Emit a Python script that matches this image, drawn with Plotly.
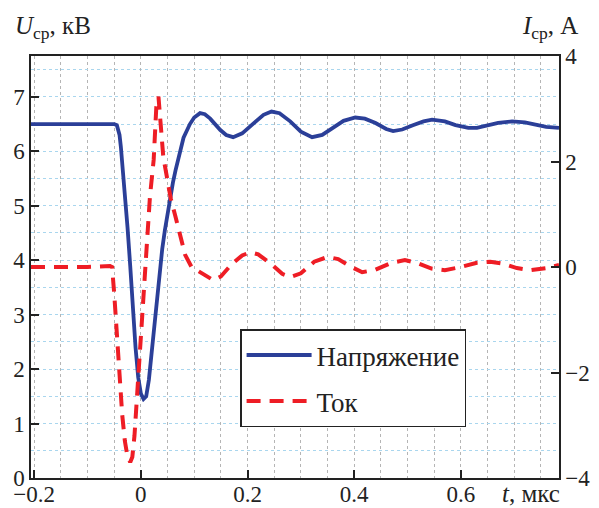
import plotly.graph_objects as go

# ---- data ----
t_voltage = [-0.206, -0.1, -0.05, -0.045, -0.04, -0.0375, -0.035, -0.0325, -0.029, -0.025,
             -0.02, -0.015, -0.01, -0.005, 0.0, 0.005, 0.01, 0.015, 0.02, 0.025,
             0.03, 0.035, 0.04, 0.045, 0.05, 0.055, 0.06, 0.065, 0.074, 0.08,
             0.092, 0.1, 0.111, 0.12, 0.13, 0.149, 0.16, 0.173, 0.19, 0.21,
             0.23, 0.245, 0.26, 0.28, 0.3, 0.321, 0.34, 0.36, 0.38, 0.402,
             0.42, 0.44, 0.46, 0.473, 0.49, 0.51, 0.53, 0.546, 0.57, 0.59,
             0.614, 0.63, 0.65, 0.67, 0.696, 0.72, 0.74, 0.76, 0.784]
u_kv = [6.5, 6.5, 6.5, 6.48, 6.3, 6.08, 5.8, 5.47, 5.1, 4.6,
        3.9, 3.1, 2.4, 1.85, 1.55, 1.45, 1.5, 1.8, 2.3, 2.85,
        3.35, 3.8, 4.2, 4.55, 4.87, 5.17, 5.42, 5.65, 6.05, 6.25,
        6.5, 6.62, 6.7, 6.68, 6.6, 6.39, 6.3, 6.26, 6.33, 6.5,
        6.67, 6.73, 6.7, 6.55, 6.36, 6.26, 6.3, 6.43, 6.56, 6.62,
        6.6, 6.52, 6.41, 6.37, 6.4, 6.48, 6.55, 6.58, 6.55, 6.48,
        6.43, 6.43, 6.47, 6.52, 6.55, 6.53, 6.49, 6.45, 6.43]

t_current = [-0.206, -0.1, -0.058, -0.054, -0.05, -0.045, -0.04, -0.035, -0.03, -0.025,
             -0.02, -0.016, -0.012, -0.008, -0.004, 0.0, 0.005, 0.01, 0.017, 0.024,
             0.029, 0.033, 0.036, 0.038, 0.042, 0.049, 0.056, 0.064, 0.073, 0.083,
             0.095, 0.111, 0.125, 0.136, 0.15, 0.17, 0.19, 0.205, 0.22, 0.245,
             0.265, 0.28, 0.3, 0.325, 0.35, 0.37, 0.395, 0.415, 0.44, 0.47,
             0.495, 0.52, 0.545, 0.57, 0.6, 0.63, 0.655, 0.68, 0.705, 0.73,
             0.76, 0.784]
i_a = [0.0, 0.0, 0.02, 0.0, -0.5, -1.3, -2.1, -2.8, -3.3, -3.6,
       -3.7, -3.6, -3.2, -2.6, -1.9, -1.2, -0.4, 0.35, 1.33, 2.03,
       3.04, 3.23, 2.95, 2.6, 2.09, 1.65, 1.3, 0.99, 0.6, 0.23,
       0.0, -0.1, -0.2, -0.25, -0.18, 0.05, 0.22, 0.28, 0.24, 0.05,
       -0.13, -0.19, -0.12, 0.1, 0.19, 0.15, 0.0, -0.1, -0.05, 0.08,
       0.13, 0.07, -0.03, -0.06, 0.0, 0.08, 0.1, 0.06, -0.02, -0.06,
       -0.02, 0.04]

x_ticks = [-0.2, 0, 0.2, 0.4, 0.6]
x_tick_labels = ["\u22120.2", "0", "0.2", "0.4", "0.6"]
u_ticks = [0, 1, 2, 3, 4, 5, 6, 7]
u_tick_labels = ["0", "1", "2", "3", "4", "5", "6", "7"]
i_ticks = [-4, -2, 0, 2, 4]
i_tick_labels = ["\u22124", "\u22122", "0", "2", "4"]
series_names = ["Напряжение", "Ток"]

BLUE = "#2b3f98"
RED = "#ee1d25"
FONT = "Liberation Serif, serif"

fig = go.Figure()
fig.add_trace(go.Scatter(x=t_voltage, y=u_kv, mode="lines", name=series_names[0],
                         line=dict(color=BLUE, width=3.8), legendgroup="a", yaxis="y"))
fig.add_trace(go.Scatter(x=t_current, y=i_a, mode="lines", name=series_names[1],
                         line=dict(color=RED, width=4, dash="14px,9px"), legendgroup="b", yaxis="y2"))

axis_common = dict(showline=True, linecolor="#222", linewidth=1.5, ticks="inside",
                   ticklen=8, tickwidth=1.5, tickcolor="#222", zeroline=False,
                   automargin=False,
                   tickfont=dict(family=FONT, size=23, color="#222"))

fig.update_layout(
    width=591, height=500,
    margin=dict(l=23, r=40, t=48, b=30),
    paper_bgcolor="white", plot_bgcolor="white",
    font=dict(family=FONT, size=23, color="#222"),
    showlegend=True,
    xaxis=dict(range=[-0.206, 0.784], tickvals=x_ticks, ticktext=x_tick_labels, mirror=True,
               ticklabelstandoff=-5,
               showgrid=True, gridcolor="#b5b5b5", griddash="dot", gridwidth=1,
               minor=dict(dtick=0.05, tick0=0, showgrid=True, gridcolor="#b5b5b5",
                          griddash="dot", gridwidth=1, ticks=""),
               **axis_common),
    yaxis=dict(range=[0, 7.75], tickvals=u_ticks, ticktext=u_tick_labels, mirror=True,
               showgrid=True, gridcolor="#a9d6ee", griddash="dot", gridwidth=1.2,
               minor=dict(dtick=0.5, tick0=0, showgrid=True, gridcolor="#a9d6ee",
                          griddash="dot", gridwidth=1.2, ticks=""),
               **axis_common),
    yaxis2=dict(range=[-4, 4], tickvals=i_ticks, ticktext=i_tick_labels, overlaying="y",
                side="right", showgrid=False, **axis_common),
    legend=dict(x=0.396, y=0.352, xanchor="left", yanchor="top",
                bgcolor="white", bordercolor="#222", borderwidth=1.5,
                font=dict(family=FONT, size=27, color="#222"),
                tracegroupgap=8, itemwidth=65, traceorder="grouped"),
    annotations=[
        dict(text="<i>U</i><sub>ср</sub>, кВ", xref="paper", yref="paper", x=-0.035, y=1.025,
             xanchor="left", yanchor="bottom", showarrow=False,
             font=dict(family=FONT, size=25, color="#222")),
        dict(text="<i>I</i><sub>ср</sub>, А", xref="paper", yref="paper", x=1.04, y=1.025,
             xanchor="right", yanchor="bottom", showarrow=False,
             font=dict(family=FONT, size=25, color="#222")),
        dict(text="<i>t</i>, мкс", xref="paper", yref="paper", x=1.005, y=0.0,
             xanchor="right", yanchor="top", showarrow=False,
             font=dict(family=FONT, size=25, color="#222")),
    ],
)

fig.write_html("out.html")
